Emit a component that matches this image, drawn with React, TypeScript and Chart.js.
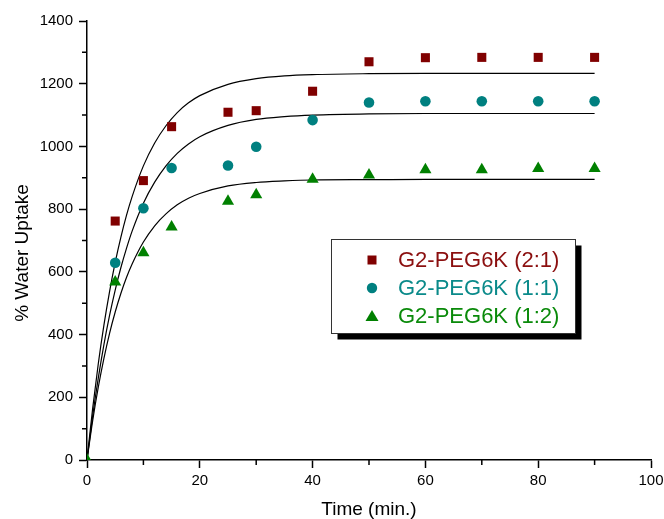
import React, { useEffect, useRef } from 'react';
import { Chart, registerables } from 'chart.js';
Chart.register(...registerables);

// Measured data (minutes, % water uptake)
const timePoints21 = [5, 10, 15, 25, 30, 40, 50, 60, 70, 80, 90];
const uptake21 = [762, 891, 1063, 1109, 1114, 1176, 1270, 1283, 1284, 1284, 1284];
const timePoints11 = [5, 10, 15, 25, 30, 40, 50, 60, 70, 80, 90];
const uptake11 = [629, 803, 931, 939, 999, 1084, 1140, 1144, 1144, 1144, 1144];
const timePoints12 = [0, 5, 10, 15, 25, 30, 40, 50, 60, 70, 80, 90];
const uptake12 = [0, 568, 661, 743, 825, 846, 895, 909, 926, 926, 930, 930];

// Fitted curves
const fitTimes = [0, 1, 2, 3, 4, 5, 6, 7, 8, 10, 12, 14, 16, 18, 20, 25, 30, 35, 40, 50, 60, 70, 80, 90];
const fit21 = [0, 164, 307, 430, 537, 630, 710, 780, 840, 938, 1011, 1066, 1108, 1139, 1162, 1198, 1216, 1225, 1229, 1232, 1233, 1233, 1233, 1233];
const fit11 = [0, 140, 261, 368, 461, 542, 613, 675, 730, 819, 886, 938, 978, 1008, 1031, 1067, 1086, 1095, 1100, 1104, 1105, 1105, 1105, 1105];
const fit12 = [0, 125, 232, 324, 404, 472, 531, 582, 625, 695, 747, 785, 814, 835, 850, 874, 885, 890, 893, 894, 895, 895, 895, 895];

const seriesLabels = ['G2-PEG6K (2:1)', 'G2-PEG6K (1:1)', 'G2-PEG6K (1:2)'];
const markerColors = ['#800000', '#008080', '#008000'];
const textColors = ['#8b0f0f', '#0a8a8a', '#0a8a0a'];
const markerStyles = ['rect', 'circle', 'triangle'];
const xTitle = 'Time (min.)';
const yTitle = '% Water Uptake';
const FONT = '"Liberation Sans", Arial, Helvetica, sans-serif';

const pts = (xs: number[], ys: number[]) => xs.map((x, i) => ({ x, y: ys[i] }));

const decorPlugin = {
  id: 'decor',
  afterDraw(chart: any) {
    const ctx = chart.ctx as CanvasRenderingContext2D;
    const xs = chart.scales.x;
    const ys = chart.scales.y;
    const area = chart.chartArea;
    ctx.save();
    // minor ticks
    ctx.strokeStyle = '#000';
    ctx.lineWidth = 1.5;
    ctx.beginPath();
    for (let v = 100; v < 1400; v += 200) {
      const py = ys.getPixelForValue(v);
      ctx.moveTo(area.left - 5, py);
      ctx.lineTo(area.left, py);
    }
    for (let v = 10; v < 100; v += 20) {
      const px = xs.getPixelForValue(v);
      ctx.moveTo(px, area.bottom);
      ctx.lineTo(px, area.bottom + 5);
    }
    ctx.stroke();

    // axis titles
    ctx.fillStyle = '#000';
    ctx.font = `19px ${FONT}`;
    ctx.textAlign = 'center';
    ctx.textBaseline = 'middle';
    ctx.fillText(xTitle, (area.left + area.right) / 2, 510);
    ctx.save();
    ctx.translate(23, 253);
    ctx.rotate(-Math.PI / 2);
    ctx.fillText(yTitle, 0, 0);
    ctx.restore();

    // legend
    const bx = 331.5, by = 239.5, bw = 244, bh = 94;
    ctx.fillStyle = '#000';
    ctx.fillRect(bx + 6, by + 6, bw, bh);
    ctx.fillStyle = '#fff';
    ctx.fillRect(bx, by, bw, bh);
    ctx.strokeStyle = '#333';
    ctx.lineWidth = 1;
    ctx.strokeRect(bx, by, bw, bh);
    const rowsY = [260, 288, 316];
    const mx = 372;
    for (let i = 0; i < 3; i++) {
      const y = rowsY[i];
      ctx.fillStyle = markerColors[i];
      ctx.beginPath();
      if (markerStyles[i] === 'rect') {
        ctx.rect(mx - 4.5, y - 4.5, 9, 9);
      } else if (markerStyles[i] === 'circle') {
        ctx.arc(mx, y, 5.2, 0, Math.PI * 2);
      } else {
        ctx.moveTo(mx, y - 6);
        ctx.lineTo(mx + 6.5, y + 5);
        ctx.lineTo(mx - 6.5, y + 5);
        ctx.closePath();
      }
      ctx.fill();
      ctx.fillStyle = textColors[i];
      ctx.font = `22px ${FONT}`;
      ctx.textAlign = 'left';
      ctx.textBaseline = 'middle';
      ctx.fillText(seriesLabels[i], 398, y + 1);
    }
    ctx.restore();
  },
};

export default function App() {
  const ref = useRef<HTMLCanvasElement | null>(null);
  useEffect(() => {
    if (!ref.current) return;
    const markerData = [pts(timePoints21, uptake21), pts(timePoints11, uptake11), pts(timePoints12, uptake12)];
    const radii = [6.4, 5.3, 7];
    const scatterSets = [2, 1, 0].map((i) => ({
      label: seriesLabels[i],
      data: markerData[i],
      showLine: false,
      pointStyle: markerStyles[i] as any,
      pointRadius: radii[i],
      pointBackgroundColor: markerColors[i],
      pointBorderColor: markerColors[i],
      pointBorderWidth: 0,
      order: 0,
    }));
    const fits = [fit21, fit11, fit12].map((f, i) => ({
      label: 'fit ' + i,
      data: pts(fitTimes, f),
      showLine: true,
      pointRadius: 0,
      borderColor: '#000',
      borderWidth: 1.2,
      cubicInterpolationMode: 'monotone' as const,
      order: 1,
      clip: false as any,
    }));
    const chart = new Chart(ref.current, {
      type: 'scatter',
      data: { datasets: [...scatterSets, ...fits] as any },
      options: {
        animation: false,
        responsive: false,
        devicePixelRatio: 1,
        layout: { padding: { left: 0, right: 13, top: 21, bottom: 0 } },
        plugins: { legend: { display: false }, tooltip: { enabled: false } },
        scales: {
          x: {
            type: 'linear',
            min: 0,
            max: 100,
            afterFit: (s: any) => { s.height = 59; s.paddingLeft = 0; s.paddingRight = 0; },
            ticks: { stepSize: 20, color: '#000', font: { size: 15, family: FONT }, padding: 4, maxRotation: 0, callback: (v: any) => String(v) },
            grid: { display: true, drawOnChartArea: false, drawTicks: true, tickLength: 8, tickColor: '#000', tickWidth: 1.5 },
            border: { display: true, color: '#000', width: 1.5 },
          },
          y: {
            type: 'linear',
            min: 0,
            max: 1400,
            afterFit: (s: any) => { s.width = 87; s.paddingTop = 0; s.paddingBottom = 0; },
            ticks: { stepSize: 200, color: '#000', font: { size: 15, family: FONT }, padding: 6, callback: (v: any) => String(v) },
            grid: { display: true, drawOnChartArea: false, drawTicks: true, tickLength: 8, tickColor: '#000', tickWidth: 1.5 },
            border: { display: true, color: '#000', width: 1.5 },
          },
        },
      },
      plugins: [decorPlugin],
    });
    return () => chart.destroy();
  }, []);
  return (
    <div style={{ position: 'fixed', left: 0, top: 0, width: 664, height: 519, background: '#fff' }}>
      <canvas ref={ref} width={664} height={519} style={{ display: 'block' }} />
    </div>
  );
}
